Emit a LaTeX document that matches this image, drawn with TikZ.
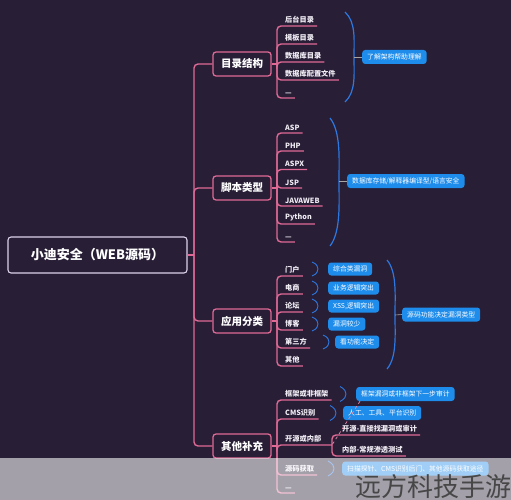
\documentclass[tikz,border=0pt]{standalone}
\usepackage{fontspec}
\setmainfont{Noto Sans CJK SC}
\definecolor{bg}{RGB}{40,30,54}
\definecolor{pk}{RGB}{224,106,150}
\definecolor{bl}{RGB}{30,140,235}
\definecolor{br}{RGB}{45,120,225}
\definecolor{lav}{RGB}{220,210,235}
\definecolor{txt}{RGB}{242,238,246}
\tikzset{
  pl/.style={draw=pk, line width=1.4pt, rounded corners=4pt},
  rootbox/.style={draw=lav, line width=1.1pt, rounded corners=3pt, fill=bg, text=white,
    font=\fontsize{13}{15}\selectfont\bfseries, minimum width=179pt, minimum height=36pt},
  catbox/.style={draw=pk, line width=1.3pt, rounded corners=3pt, fill=bg, text=white,
    font=\fontsize{10.5}{12}\selectfont\bfseries, minimum width=58pt, minimum height=24pt},
  leaf/.style={text=txt, font=\fontsize{7.2}{8}\selectfont\bfseries, inner xsep=0pt, inner ysep=2.5pt, anchor=south west},
  sumbox/.style={fill=bl, text=white, rounded corners=3pt, font=\fontsize{6.8}{8}\selectfont,
    inner xsep=5pt, inner ysep=0pt, minimum height=14pt},
  brace/.style={draw=br, line width=1.2pt},
  sbrace/.style={draw=br, line width=0.9pt},
  tick/.style={draw=gray!70, line width=0.6pt}
}
\begin{document}
\begin{tikzpicture}[x=1pt,y=-1pt]
\fill[bg] (0,0) rectangle (511,500);
\useasboundingbox (0,0) rectangle (511,500);

% root and categories
\node[rootbox] (root) at (97.5,255) {小迪安全（WEB源码）};
\node[catbox] (c1) at (242,64) {目录结构};
\node[catbox] (c2) at (242,188) {脚本类型};
\node[catbox] (c3) at (242,321) {应用分类};
\node[catbox] (c4) at (242,446) {其他补充};
\coordinate (sp) at (194,255);
\draw[pl] (root.east) -- (sp);
\foreach \c in {c1,c2,c3,c4} \draw[pl] (sp) |- (\c.west);

% junctions
\coordinate (j1) at (277,64);
\coordinate (j2) at (277,188);
\coordinate (j3) at (277,321);
\coordinate (j4) at (277,446);
\draw[pl] (c1.east) -- (j1);
\draw[pl] (c2.east) -- (j2);
\draw[pl] (c3.east) -- (j3);
\draw[pl] (c4.east) -- (j4);

% group 1
\node[leaf] (l11) at (285,26) {后台目录};
\node[leaf] (l12) at (285,44) {模板目录};
\node[leaf] (l13) at (285,62) {数据库目录};
\node[leaf] (l14) at (285,80) {数据库配置文件};
\node[leaf] (l15) at (285,98) {—};
\foreach \l in {l11,l12,l13,l14,l15} \draw[pl] (j1) |- ([xshift=3pt]\l.south east);

% group 2
\node[leaf] (l21) at (285,133) {ASP};
\node[leaf] (l22) at (285,151) {PHP};
\node[leaf] (l23) at (285,169.5) {ASPX};
\node[leaf] (l24) at (285,188) {JSP};
\node[leaf] (l25) at (285,206) {JAVAWEB};
\node[leaf] (l26) at (285,224) {Python};
\node[leaf] (l27) at (285,242) {—};
\foreach \l in {l21,l22,l23,l24,l25,l26,l27} \draw[pl] (j2) |- ([xshift=3pt]\l.south east);

% group 3
\node[leaf] (l31) at (285,276) {门户};
\node[leaf] (l32) at (285,294) {电商};
\node[leaf] (l33) at (285,312) {论坛};
\node[leaf] (l34) at (285,330) {博客};
\node[leaf] (l35) at (285,348) {第三方};
\node[leaf] (l36) at (285,366) {其他};
\foreach \l in {l31,l32,l33,l34,l35,l36} \draw[pl] (j3) |- ([xshift=3pt]\l.south east);

% group 4
\node[leaf] (l41) at (285,400) {框架或非框架};
\node[leaf] (l42) at (285,419) {CMS识别};
\node[leaf] (l43) at (285,445) {开源或内部};
\node[leaf] (l44) at (285,475) {源码获取};
\node[leaf] (l45) at (285,493) {—};
\coordinate (j43) at (332,445);
\foreach \l in {l41,l42,l44,l45} \draw[pl] (j4) |- ([xshift=3pt]\l.south east);
\draw[pl] (j4) |- (j43);
\node[leaf] (l431) at (342,435) {开源-直接找漏洞或审计};
\node[leaf] (l432) at (342,456) {内部-常规渗透测试};
\draw[pl] (j43) |- ([xshift=3pt]l431.south east);
\draw[pl] (j43) |- ([xshift=3pt]l432.south east);

% big braces and summaries
\coordinate (b1) at (354,57);
\draw[brace] (345,12) .. controls (356,22) and (354,40) .. (b1) .. controls (354,74) and (356,92) .. (345,102);
\node[sumbox, anchor=west] (s1) at (362,57) {了解架构帮助理解};
\draw[tick] (b1) -- (s1.west);

\coordinate (b2) at (339,181);
\draw[brace] (330,118) .. controls (341,132) and (339,160) .. (b2) .. controls (339,202) and (341,232) .. (330,246);
\node[sumbox, anchor=west] (s2) at (347,181) {数据库存储/解释器编译型/语言安全};
\draw[tick] (b2) -- (s2.west);

\coordinate (b3) at (395,315);
\draw[brace] (387,260) .. controls (397,272) and (395,295) .. (b3) .. controls (395,335) and (397,357) .. (387,369);
\node[sumbox, anchor=west] (s3) at (402,314.5) {源码功能决定漏洞类型};
\draw[tick] (b3) -- (s3.west);

% small braces group 3
\foreach \y/\x/\bx/\t/\n in {269/312/328/综合类漏洞/s31, 288/312/328/业务逻辑突出/s32, 306/312/328/{XSS,逻辑突出}/s33, 324/312/328/漏洞较少/s34, 342/323/335/看功能决定/s35}{
  \draw[sbrace] (\x,\y-7) .. controls (\x+5,\y-5) and (\x+6,\y-2) .. (\x+6,\y) .. controls (\x+6,\y+2) and (\x+5,\y+5) .. (\x,\y+7);
  \node[sumbox, anchor=west, minimum height=13pt] (\n) at (\bx,\y) {\t};
}

% small braces group 4
\foreach \y/\x/\bx/\t/\n in {394/340/356/框架漏洞或非框架下一步审计/s41, 413/330/343/人工、工具、平台识别/s42, 468.5/328/342/扫描探针、CMS识别后门、其他源码获取途径/s44}{
  \draw[sbrace] (\x,\y-7.5) .. controls (\x+5,\y-5) and (\x+6,\y-2) .. (\x+6,\y) .. controls (\x+6,\y+2) and (\x+5,\y+5) .. (\x,\y+7.5);
  \node[sumbox, anchor=west] (\n) at (\bx,\y) {\t};
}
\draw[dashed, draw=pk!80!white, line width=0.7pt] ([xshift=4pt]s41.south west) -- (j43);

% watermark band
\fill[white, opacity=0.58] (0,458) rectangle (511,500);
\node[text=black!72, font=\fontsize{26}{28}\selectfont, inner sep=0pt] (wm) at (433,487) {远方科技手游};
\end{tikzpicture}
\end{document}
